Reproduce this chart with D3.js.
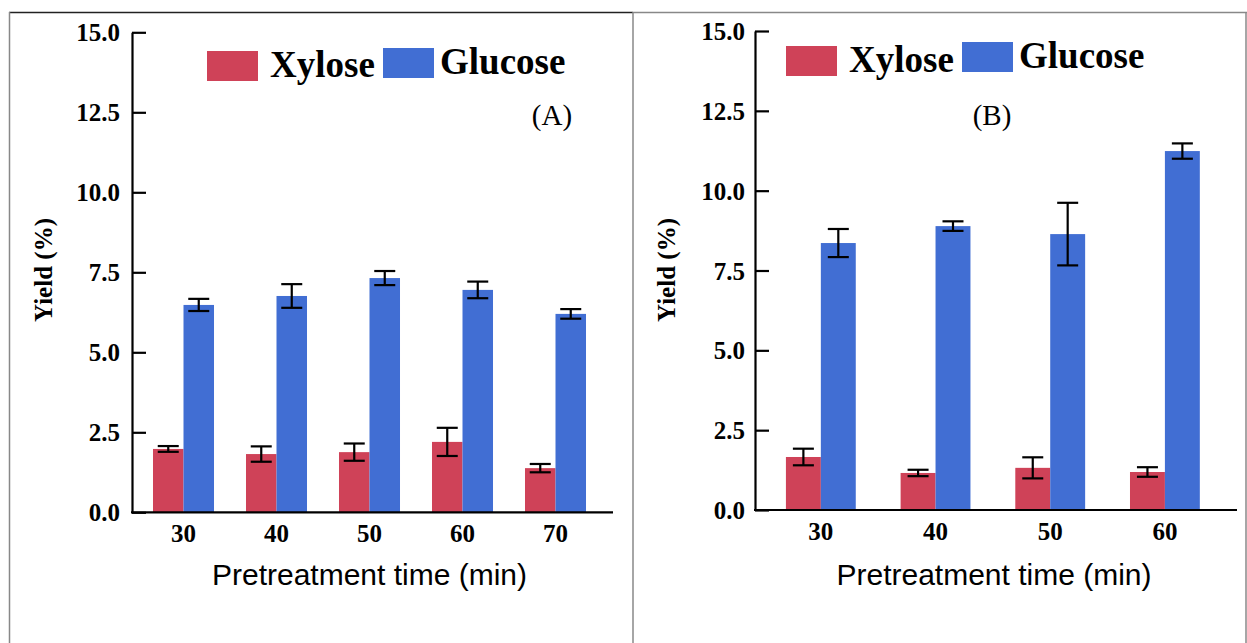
<!DOCTYPE html>
<html>
<head>
<meta charset="utf-8">
<script src="https://cdn.jsdelivr.net/npm/d3@7"></script>
<style>
  body { margin: 0; background: #fff; }
  svg { display: block; }
</style>
</head>
<body>
<div id="chart"></div>
<script>
// data
const timesA = ["30", "40", "50", "60", "70"];
const xyloseA = [1.98, 1.82, 1.88, 2.20, 1.38];
const xyloseErrA = [0.09, 0.24, 0.27, 0.44, 0.13];
const glucoseA = [6.48, 6.76, 7.32, 6.95, 6.20];
const glucoseErrA = [0.19, 0.37, 0.22, 0.26, 0.15];

const timesB = ["30", "40", "50", "60"];
const xyloseB = [1.66, 1.16, 1.32, 1.19];
const xyloseErrB = [0.26, 0.10, 0.33, 0.15];
const glucoseB = [8.36, 8.89, 8.64, 11.24];
const glucoseErrB = [0.44, 0.15, 0.98, 0.24];

const yTicks = [0, 2.5, 5, 7.5, 10, 12.5, 15];
const seriesNames = ["Xylose", "Glucose"];

const width = 1247, height = 643;
const colors = d3.scaleOrdinal(seriesNames, ["#cf4258", "#416ed3"]);
const serif = "'Liberation Serif', 'Times New Roman', serif";
const sans = "'Liberation Sans', Arial, sans-serif";

let svg = d3.select("#chart").append("svg")
    .attr("width", width)
    .attr("height", height);

// panel frames
svg.append("line").attr("x1", 9).attr("x2", 633).attr("y1", 12.5).attr("y2", 12.5)
  .attr("stroke", "#222").attr("stroke-width", 1.5);
svg.append("line").attr("x1", 633).attr("x2", 1247).attr("y1", 12.5).attr("y2", 12.5)
  .attr("stroke", "#888").attr("stroke-width", 1.5);
[9.5, 633, 1246].forEach(function(x) {
  svg.append("line").attr("x1", x).attr("x2", x).attr("y1", 12).attr("y2", height)
    .attr("stroke", "#888").attr("stroke-width", 1.5);
});

function drawPanel(p) {
  let g = svg.append("g");

  let y = d3.scaleLinear().domain([0, 15]).range([p.y0, p.y15]);

  let x = d3.scaleBand()
      .domain(p.times)
      .range(p.xRange)
      .paddingInner(p.padIn)
      .paddingOuter(p.padOut);

  let sub = d3.scaleBand().domain(seriesNames).range([0, x.bandwidth()]);

  let rows = p.times.map(function(t, i) {
    return [
      {time: t, key: "Xylose", value: p.xylose[i], err: p.xyloseErr[i]},
      {time: t, key: "Glucose", value: p.glucose[i], err: p.glucoseErr[i]}
    ];
  }).flat();

  // bars
  g.selectAll(".bar")
      .data(rows)
    .enter()
      .append("rect")
      .attr("class", "bar")
      .attr("x", function(d) { return x(d.time) + sub(d.key); })
      .attr("width", sub.bandwidth())
      .attr("y", function(d) { return y(d.value); })
      .attr("height", function(d) { return y(0) - y(d.value); })
      .attr("fill", function(d) { return colors(d.key); });

  // error bars
  let eb = g.selectAll(".err")
      .data(rows)
    .enter()
      .append("g")
      .attr("class", "err")
      .attr("stroke", "#000")
      .attr("stroke-width", 2.2)
      .attr("transform", function(d) {
        return "translate(" + (x(d.time) + sub(d.key) + sub.bandwidth() / 2) + ",0)";
      });
  eb.append("line")
      .attr("y1", function(d) { return y(d.value + d.err); })
      .attr("y2", function(d) { return y(d.value - d.err); });
  eb.append("line").attr("x1", -10.5).attr("x2", 10.5)
      .attr("y1", function(d) { return y(d.value + d.err); })
      .attr("y2", function(d) { return y(d.value + d.err); });
  eb.append("line").attr("x1", -10.5).attr("x2", 10.5)
      .attr("y1", function(d) { return y(d.value - d.err); })
      .attr("y2", function(d) { return y(d.value - d.err); });

  // y axis, ticks pointing inward
  let yAxis = g.append("g")
      .attr("transform", "translate(" + p.axisX + ",0)")
      .call(d3.axisRight(y).tickValues(yTicks).tickSize(14).tickSizeOuter(0)
        .tickFormat(d3.format(".1f")));
  yAxis.select(".domain").attr("stroke-width", 2.2);
  yAxis.selectAll(".tick line").attr("stroke-width", 2.2);
  yAxis.selectAll(".tick text")
      .attr("x", -p.labelGap)
      .attr("dy", "0.34em")
      .attr("text-anchor", "end")
      .style("font-family", serif)
      .style("font-weight", "bold")
      .style("font-size", "25px")
      .attr("fill", "#000");

  // x axis line
  g.append("line")
      .attr("x1", p.axisX - 1).attr("x2", p.axisEnd)
      .attr("y1", y(0)).attr("y2", y(0))
      .attr("stroke", "#000").attr("stroke-width", 2.2);

  g.selectAll(".xlab")
      .data(p.times)
    .enter()
      .append("text")
      .attr("class", "xlab")
      .attr("x", function(d) { return x(d) + x.bandwidth() / 2; })
      .attr("y", p.xLabY)
      .attr("text-anchor", "middle")
      .style("font-family", serif)
      .style("font-weight", "bold")
      .style("font-size", "25px")
      .text(function(d) { return d; });

  // axis titles
  g.append("text")
      .attr("x", (p.axisX + p.axisEnd) / 2 + p.titleShift)
      .attr("y", 585)
      .attr("text-anchor", "middle")
      .style("font-family", sans)
      .style("font-size", "30px")
      .text("Pretreatment time (min)");

  g.append("text")
      .attr("transform", "translate(" + p.yTitleX + ",270) rotate(-90)")
      .attr("text-anchor", "middle")
      .style("font-family", serif)
      .style("font-weight", "bold")
      .style("font-size", "25px")
      .text("Yield (%)");

  // legend
  let legend = g.selectAll(".legend")
      .data(p.legend)
    .enter()
      .append("g")
      .attr("class", "legend")
      .attr("transform", function(d) { return "translate(" + d.x + "," + d.y + ")"; });
  legend.append("rect")
      .attr("width", 51)
      .attr("height", 30)
      .attr("fill", function(d) { return colors(d.key); });
  legend.append("text")
      .attr("x", function(d, i) { return i === 0 ? 63 : 57; })
      .attr("y", 26)
      .style("font-family", serif)
      .style("font-weight", "bold")
      .style("font-size", "37px")
      .text(function(d) { return d.key; });

  g.append("text")
      .attr("x", p.tagX)
      .attr("y", 125)
      .attr("text-anchor", "middle")
      .style("font-family", serif)
      .style("font-size", "29px")
      .text(p.tag);
}

drawPanel({
  times: timesA, xylose: xyloseA, xyloseErr: xyloseErrA,
  glucose: glucoseA, glucoseErr: glucoseErrA,
  y0: 512.3, y15: 32.3, axisX: 132, axisEnd: 613, labelGap: 12,
  xRange: [129, 610], padIn: 0.344, padOut: 0.258, xLabY: 542,
  titleShift: -3, yTitleX: 52,
  legend: [{key: "Xylose", x: 207, y: 51}, {key: "Glucose", x: 383, y: 48}],
  tag: "(A)", tagX: 552
});

drawPanel({
  times: timesB, xylose: xyloseB, xyloseErr: xyloseErrB,
  glucose: glucoseB, glucoseErr: glucoseErrB,
  y0: 510, y15: 31, axisX: 755, axisEnd: 1237, labelGap: 10,
  xRange: [757.25, 1228.5], padIn: 0.391, padOut: 0.25, xLabY: 540,
  titleShift: -2, yTitleX: 675,
  legend: [{key: "Xylose", x: 786, y: 46}, {key: "Glucose", x: 962, y: 42}],
  tag: "(B)", tagX: 992
});
</script>
</body>
</html>
